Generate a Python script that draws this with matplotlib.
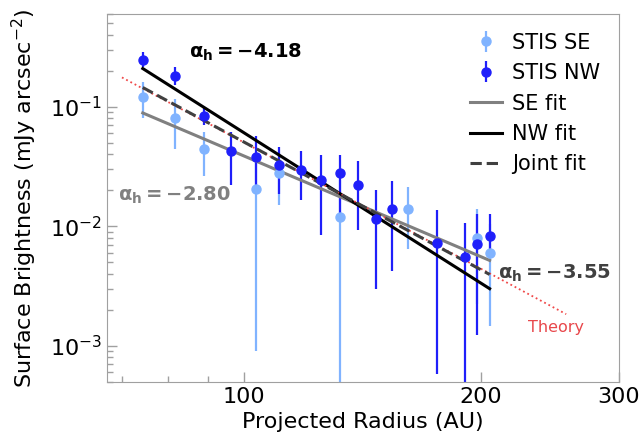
import numpy as np
import matplotlib
matplotlib.use("Agg")
import matplotlib.pyplot as plt

# STIS NW surface brightness profile (mJy arcsec^-2) vs projected radius (AU)
nw_r = [74.4, 81.7, 89.0, 96.2, 103.5, 110.8, 118.1, 125.4, 132.6, 139.9,
        147.2, 154.5, 176.3, 190.9, 198.2, 205.4]
nw_sb = [0.247, 0.182, 0.0835, 0.0425, 0.0381, 0.0324, 0.0294, 0.0243, 0.0282,
         0.0222, 0.0116, 0.0141, 0.00728, 0.00552, 0.00714, 0.00822]
nw_err_lo = [0.033, 0.030, 0.0133, 0.0202, 0.0193, 0.0136, 0.0129, 0.0159,
             0.0163, 0.0128, 0.0086, 0.0099, 0.0067, 0.0053, 0.0059, 0.0020]
nw_err_hi = [0.039, 0.035, 0.0135, 0.0192, 0.0187, 0.0138, 0.0131, 0.0151,
             0.0111, 0.0128, 0.0084, 0.0097, 0.0065, 0.0052, 0.0055, 0.0044]

# STIS SE profile
se_r = [74.4, 81.7, 89.0, 103.5, 110.8, 132.6, 161.8, 198.2, 205.4]
se_sb = [0.121, 0.0804, 0.0442, 0.0207, 0.0282, 0.0119, 0.0139, 0.00805, 0.00596]
se_err = [0.041, 0.036, 0.018, 0.0198, 0.0132, 0.0125, 0.0074, 0.0058, 0.0045]

# Power-law fits: SB = norm * (r / 100 AU)^alpha
fit_r = (74.4, 205.4)
se_alpha, se_norm = -2.80, 0.0389
nw_alpha, nw_norm = -4.18, 0.0609
joint_alpha, joint_norm = -3.55, 0.0509
theory_r = (70.0, 257.0)
theory_alpha, theory_norm = -3.51, 0.0505

c_se = "#80b3ff"
c_nw = "#1f1ffa"


def power_law(r, norm, alpha):
    return norm * (np.asarray(r) / 100.0) ** alpha


def alpha_label(value):
    return r"$\mathbf{\alpha_h = %s}$" % ("-%.2f" % abs(value))


fig = plt.figure(figsize=(6.43, 4.43), dpi=100)
ax = fig.add_axes([0.1664, 0.1384, 0.7963, 0.8300])

h_se = ax.errorbar(se_r, se_sb, yerr=se_err, fmt="o", color=c_se, ms=6.5,
                   elinewidth=1.6, capsize=0, label="STIS SE")
h_nw = ax.errorbar(nw_r, nw_sb, yerr=[nw_err_lo, nw_err_hi], fmt="o",
                   color=c_nw, ms=6.5, elinewidth=1.6, capsize=0,
                   label="STIS NW")

rr = np.geomspace(*fit_r, 50)
h_sefit, = ax.plot(rr, power_law(rr, se_norm, se_alpha), color="gray",
                   lw=2.2, label="SE fit")
h_nwfit, = ax.plot(rr, power_law(rr, nw_norm, nw_alpha), color="black",
                   lw=2.2, label="NW fit")
rt = np.geomspace(*theory_r, 50)
ax.plot(rt, power_law(rt, theory_norm, theory_alpha), color="#f04848",
        lw=1.3, ls=":")
h_joint, = ax.plot(rr, power_law(rr, joint_norm, joint_alpha),
                   color="#404040", lw=2.2, ls="--", label="Joint fit")

ax.set_xscale("log")
ax.set_yscale("log")
ax.set_xlim(67.0, 300.0)
ax.set_ylim(5e-4, 0.6)

ax.set_xticks([100, 200, 300])
ax.set_xticklabels(["100", "200", "300"])

ax.text(85.1, 0.288, alpha_label(nw_alpha), color="black",
        fontsize=14, ha="left", va="center")
ax.text(69.2, 0.0182, alpha_label(se_alpha), color="gray",
        fontsize=14, ha="left", va="center")
ax.text(210.2, 0.00403, alpha_label(joint_alpha), color="#404040",
        fontsize=14, ha="left", va="center")
ax.text(249.8, 0.00143, "Theory", color="#e8474b", fontsize=11.5,
        ha="center", va="center")

ax.set_xlabel("Projected Radius (AU)", fontsize=16)
ax.set_ylabel(r"Surface Brightness (mJy arcsec$^{-2}$)", fontsize=16,
              labelpad=8)

for s in ax.spines.values():
    s.set_color("#a0a0a0")
ax.tick_params(which="both", direction="in", colors="#a0a0a0",
               labelcolor="black", labelsize=16, top=False, right=False)
ax.tick_params(which="major", length=7, width=1)
ax.tick_params(which="minor", length=4, width=1)

ax.legend(handles=[h_se, h_nw, h_sefit, h_nwfit, h_joint],
          loc="upper right", frameon=False, fontsize=15, handlelength=1.5,
          handletextpad=0.5)

fig.savefig("out.png", dpi=100)
